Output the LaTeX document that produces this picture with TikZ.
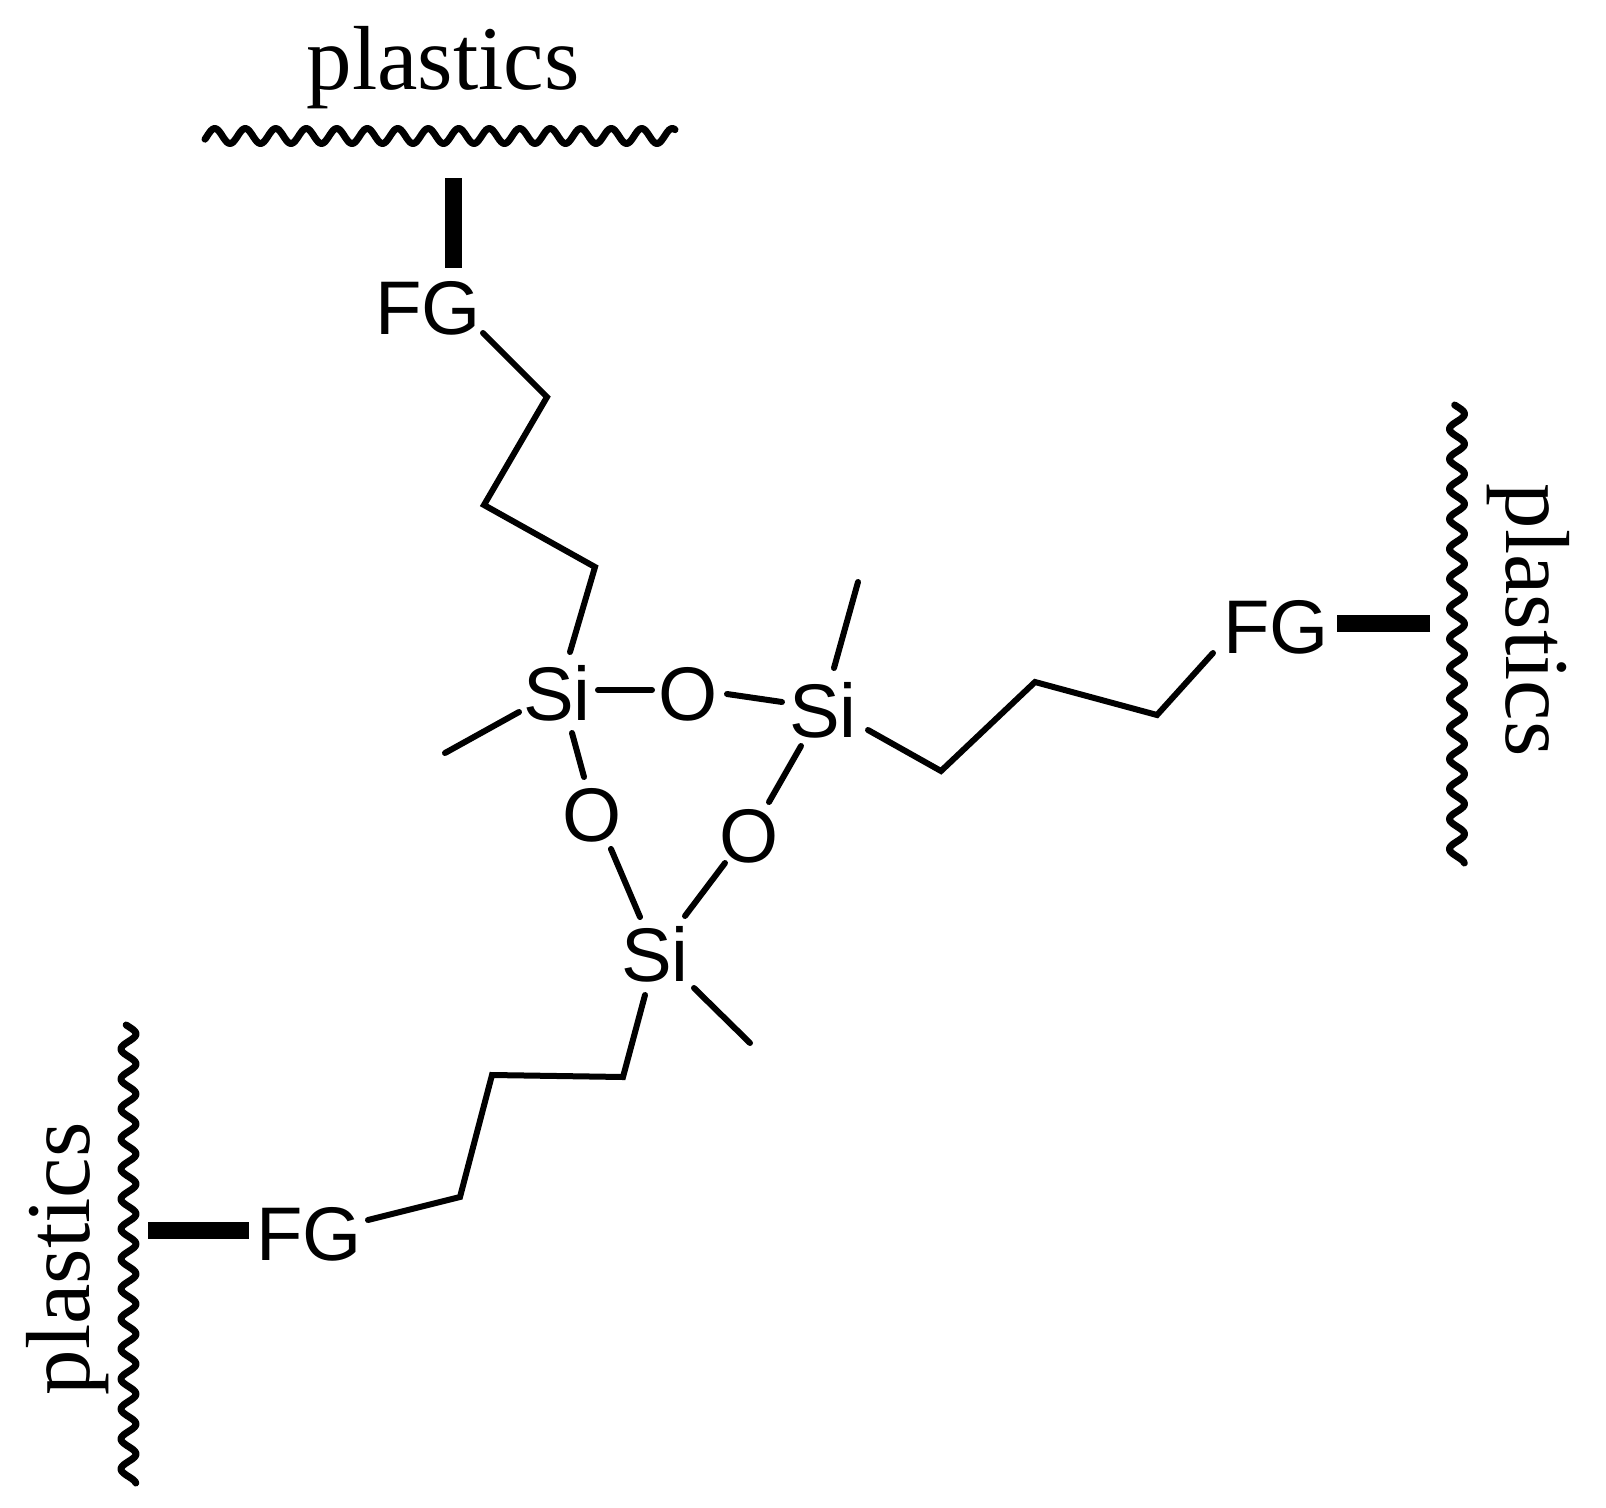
\documentclass[tikz,border=0pt]{standalone}
\usepackage{fontspec}
\setmainfont{Liberation Serif}
\newfontfamily\atomfont{Liberation Sans}
\tikzset{
  atom/.style={font=\atomfont\fontsize{76}{76}\selectfont, inner sep=0pt, text height=54pt, text depth=0pt, anchor=center},
  plabel/.style={font=\fontsize{91}{91}\selectfont, inner sep=0pt, anchor=base},
  bond/.style={line width=6pt, line join=miter, line cap=round},
  heavy/.style={line width=17pt, line cap=butt},
  waveline/.style={line width=7pt, line cap=round, line join=round}
}
\newcommand{\wavyh}[2]{\draw[waveline, shift={(#1)}] plot[domain=0:#2, samples=320] ({\x},{7.5*cos(11.803*(\x-25))});}
\newcommand{\wavyv}[2]{\draw[waveline, shift={(#1)}] plot[domain=0:#2, samples=320] ({7.5*cos(12*(\x-9))},{\x});}
\begin{document}
\begin{tikzpicture}[x=1pt,y=-1pt]
\useasboundingbox (0,0) rectangle (1606,1507);
% atoms
\node[atom] (FGa) at (428,307) {FG};
\node[atom] (FGb) at (1276,626) {FG};
\node[atom] (FGc) at (309,1233) {FG};
\node[atom] (Sia) at (557,693) {Si};
\node[atom] (Sib) at (823,710) {Si};
\node[atom] (Sic) at (655,954) {Si};
\node[atom] (Oa) at (688,693) {O};
\node[atom] (Ob) at (592,814) {O};
\node[atom] (Oc) at (749,835) {O};
% labels
\node[plabel] (Pa) at (443,89) {plastics};
\node[plabel, rotate=-90] (Pb) at (1506,620) {plastics};
\node[plabel, rotate=90] (Pc) at (89,1259) {plastics};
% surfaces
\coordinate (WaL) at (205,136);
\coordinate (WbT) at (1457,405);
\coordinate (WcT) at (128.5,1025);
\wavyh{WaL}{470}
\wavyv{WbT}{458}
\wavyv{WcT}{458}
% free ends and chain corners
\coordinate (Ba) at (453,178);
\coordinate (Bb) at (1430,623);
\coordinate (Bc) at (148,1230);
\coordinate (a1) at (547,397);
\coordinate (a2) at (484,505);
\coordinate (a3) at (595,567);
\coordinate (b1) at (941,771);
\coordinate (b2) at (1035,682);
\coordinate (b3) at (1157,715);
\coordinate (c1) at (623,1077);
\coordinate (c2) at (492,1075);
\coordinate (c3) at (460,1197);
\coordinate (Ma) at (445,753);
\coordinate (Mb) at (858,582);
\coordinate (Mc) at (750,1043);
% heavy bonds
\draw[heavy] (Ba) -- ([shift={(25,-39)}]FGa.center);
\draw[heavy] (Bb) -- ([shift={(61,-3)}]FGb.center);
\draw[heavy] (Bc) -- ([shift={(-60,-3)}]FGc.center);
% chains
\draw[bond] ([shift={(55,26)}]FGa.center) -- (a1) -- (a2) -- (a3) -- ([shift={(13,-41)}]Sia.center);
\draw[bond] ([shift={(45,20)}]Sib.center) -- (b1) -- (b2) -- (b3) -- ([shift={(-63,27)}]FGb.center);
\draw[bond] ([shift={(-10,41)}]Sic.center) -- (c1) -- (c2) -- (c3) -- ([shift={(59,-13)}]FGc.center);
% ring
\draw[bond] ([shift={(41,-3)}]Sia.center) -- ([shift={(-36,-3)}]Oa.center);
\draw[bond] ([shift={(39,1)}]Oa.center) -- ([shift={(-41,-8)}]Sib.center);
\draw[bond] ([shift={(-22,36)}]Sib.center) -- ([shift={(20,-33)}]Oc.center);
\draw[bond] ([shift={(-24,28)}]Oc.center) -- ([shift={(30,-38)}]Sic.center);
\draw[bond] ([shift={(19,35)}]Ob.center) -- ([shift={(-15,-37)}]Sic.center);
\draw[bond] ([shift={(15,40)}]Sia.center) -- ([shift={(-8,-37)}]Ob.center);
% methyls
\draw[bond] ([shift={(-38,19)}]Sia.center) -- (Ma);
\draw[bond] ([shift={(11,-42)}]Sib.center) -- (Mb);
\draw[bond] ([shift={(39,34)}]Sic.center) -- (Mc);
\end{tikzpicture}
\end{document}
